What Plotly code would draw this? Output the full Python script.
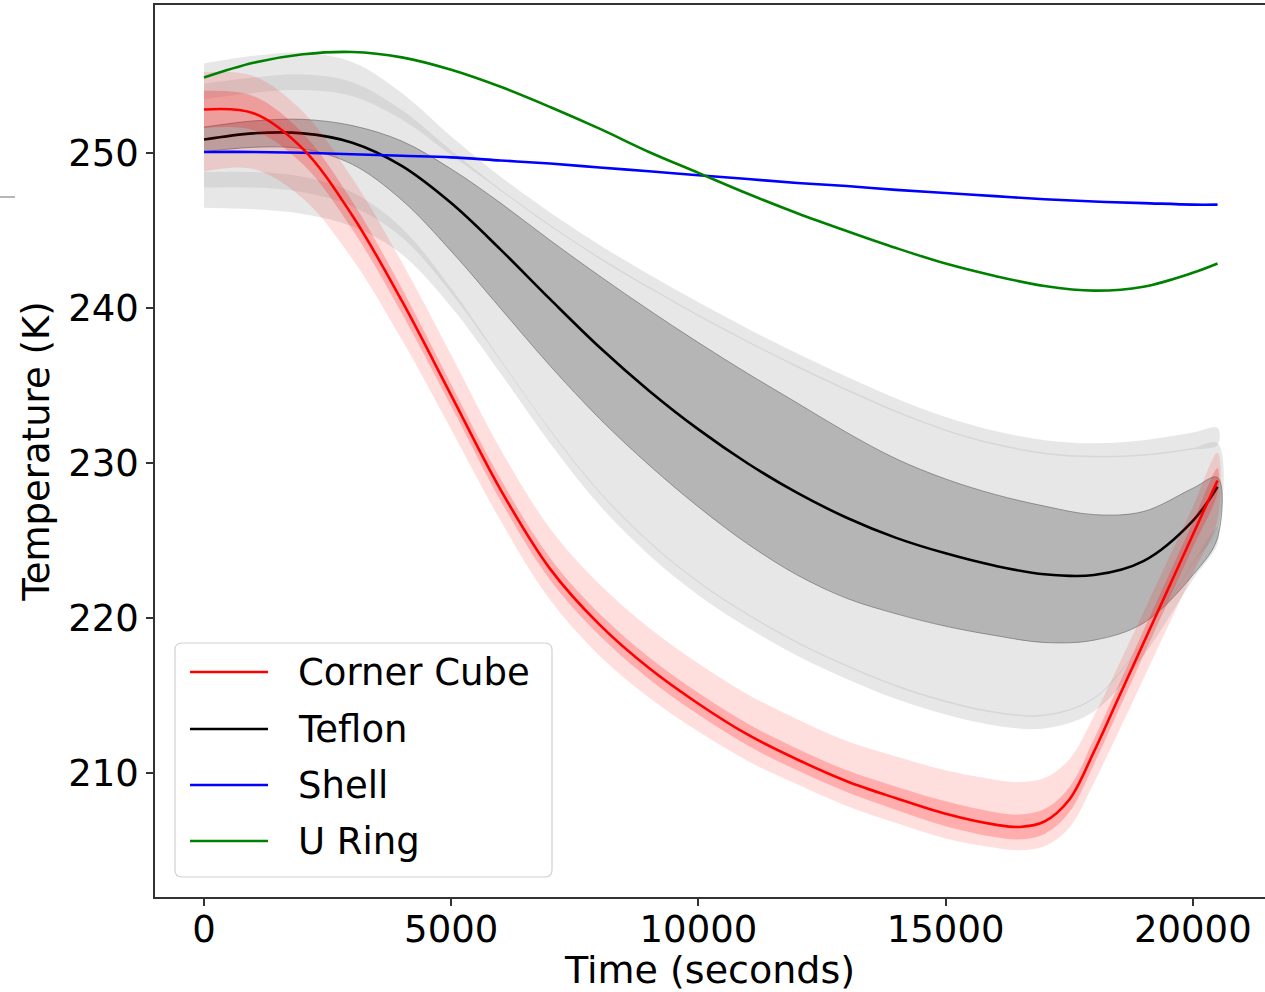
import plotly.graph_objects as go

# ---------------------------------------------------------------
# Time grids (seconds)
# ---------------------------------------------------------------
t_main = [0, 1000, 2000, 3000, 4000, 5000, 6000, 7000, 8000, 9000, 10000,
          11000, 12000, 13000, 14000, 15000, 16000, 17000, 18000, 19000,
          20000, 20500]
t_red = [0, 1000, 2000, 3000, 4000, 5000, 6000, 7000, 8000, 9000, 10000,
         11000, 12000, 13000, 14000, 15000, 16000, 16500, 17000, 17500,
         18000, 18500, 19000, 19500, 20000, 20500]

# ---------------------------------------------------------------
# Corner Cube (model mean and uncertainty offsets, K)
# ---------------------------------------------------------------
corner_cube = [252.84, 252.6, 250.3, 246.0, 240.5, 234.4, 228.3, 223.2,
               219.6, 216.8, 214.5, 212.5, 210.9, 209.5, 208.4, 207.4,
               206.7, 206.55, 206.9, 208.3, 211.4, 214.9, 218.4, 221.9,
               225.4, 228.9]
cc_inner = [1.2, 1.1, 1.0, 0.9, 0.8, 0.7, 0.7, 0.7, 0.7, 0.7, 0.7, 0.7,
            0.7, 0.7, 0.75, 0.8, 0.8, 0.8, 0.8, 0.8, 0.8, 0.8, 0.8, 0.8,
            0.8, 0.8]
cc_outer_up = [2.4, 2.4, 2.4, 2.4, 2.5, 2.6, 2.6, 2.6, 2.6, 2.6, 2.6, 2.6,
               2.6, 2.6, 2.7, 2.8, 2.9, 2.9, 2.8, 2.6, 2.3, 2.1, 2.0, 1.9,
               1.8, 1.8]
cc_outer_dn = [4.0, 3.6, 3.2, 2.8, 2.5, 2.2, 2.0, 2.0, 2.0, 1.9, 1.8, 1.7,
               1.6, 1.6, 1.6, 1.6, 1.5, 1.5, 1.6, 1.8, 2.0, 2.2, 2.3, 2.4,
               2.5, 2.5]

# ---------------------------------------------------------------
# Teflon (model mean, band offsets, measured envelope, K)
# ---------------------------------------------------------------
teflon = [250.9, 251.3, 251.3, 250.7, 249.2, 246.8, 243.8, 240.6, 237.5,
          234.7, 232.2, 230.0, 228.1, 226.5, 225.2, 224.2, 223.4, 222.85,
          222.8, 223.7, 226.3, 228.5]
teflon_up = [0.8, 0.8, 0.9, 1.1, 1.6, 2.2, 3.0, 3.8, 4.6, 5.2, 5.6, 5.8,
             5.8, 5.5, 5.1, 4.8, 4.6, 4.4, 3.9, 3.2, 2.1, 0.6]
teflon_dn = [0.8, 0.9, 1.0, 1.4, 2.2, 3.1, 3.8, 4.3, 4.6, 4.8, 5.0, 5.2,
             5.3, 5.2, 4.9, 4.7, 4.5, 4.4, 4.2, 4.0, 3.5, 3.3]
meas_hi = [254.5, 254.9, 255.1, 254.6, 252.8, 250.2, 247.7, 245.4, 243.3,
           241.4, 239.6, 237.9, 236.3, 234.8, 233.4, 232.2, 231.3, 230.7,
           230.5, 230.6, 231.0, 231.3]
meas_lo = [247.8, 247.8, 247.5, 246.6, 244.6, 241.0, 236.6, 232.1, 228.1,
           224.9, 222.3, 220.2, 218.4, 216.9, 215.6, 214.6, 213.9, 213.7,
           214.8, 218.5, 223.5, 225.8]
# spread of the raw readings outside / inside the envelope edges
meas_out = [1.3, 1.4, 1.4, 1.3, 1.1, 0.9, 0.8, 0.8, 0.8, 0.8, 0.8,
            0.8, 0.8, 0.8, 0.8, 0.8, 0.8, 0.8, 0.8, 0.9, 1.0, 1.0]
meas_in = [1.0, 1.0, 1.0, 0.9, 0.6, 0.3, 0.1, 0.1, 0.1, 0.1, 0.1,
           0.1, 0.1, 0.1, 0.1, 0.1, 0.1, 0.1, 0.1, 0.1, 0.1, 0.1]

# ---------------------------------------------------------------
# Shell and U Ring (K)
# ---------------------------------------------------------------
shell = [250.1, 250.1, 250.05, 249.95, 249.85, 249.75, 249.55, 249.35,
         249.1, 248.85, 248.6, 248.35, 248.1, 247.9, 247.65, 247.45,
         247.25, 247.05, 246.9, 246.8, 246.7, 246.7]
u_ring = [254.9, 255.85, 256.4, 256.55, 256.2, 255.4, 254.3, 253.0, 251.6,
          250.1, 248.75, 247.4, 246.15, 245.0, 243.9, 242.9, 242.1, 241.45,
          241.15, 241.4, 242.3, 242.9]

legend_names = ["Corner Cube", "Teflon", "Shell", "U Ring"]
legend_colors = ["#ff0000", "#000000", "#0000ff", "#008000"]

x_ticks = [0, 5000, 10000, 15000, 20000]
x_tick_text = ["0", "5000", "10000", "15000", "20000"]
y_ticks = [210, 220, 230, 240, 250]
y_tick_text = ["210", "220", "230", "240", "250"]

FONT = "DejaVu Sans"
SPLINE = dict(shape="spline", smoothing=1.0)


def band(x, lo, hi, color, line_color=None, line_width=0):
    """Closed polygon between two curves."""
    xs = list(x) + list(x)[::-1]
    ys = list(hi) + list(lo)[::-1]
    return go.Scatter(
        x=xs, y=ys, mode="lines", fill="toself", fillcolor=color,
        line=dict(color=line_color or "rgba(0,0,0,0)", width=line_width,
                  **SPLINE),
        hoverinfo="skip", showlegend=False)


fig = go.Figure()

# measured envelope of the Teflon sensors
fig.add_trace(band(t_main, meas_lo, meas_hi, "#e7e7e7"))
# scatter of the raw readings along the envelope edges
fig.add_trace(band(t_main,
                   [m - i for m, i in zip(meas_hi, meas_in)],
                   [m + o for m, o in zip(meas_hi, meas_out)],
                   "rgba(185,185,185,0.35)"))
fig.add_trace(band(t_main,
                   [m - o for m, o in zip(meas_lo, meas_out)],
                   [m + i for m, i in zip(meas_lo, meas_in)],
                   "rgba(185,185,185,0.35)"))
# Teflon model band
fig.add_trace(band(t_main,
                   [m - d for m, d in zip(teflon, teflon_dn)],
                   [m + u for m, u in zip(teflon, teflon_up)],
                   "rgba(120,120,120,0.45)",
                   line_color="rgba(90,90,90,0.55)", line_width=1))

line_style = dict(width=2.6, **SPLINE)
fig.add_trace(go.Scatter(x=t_main, y=teflon, mode="lines", name="Teflon",
                         line=dict(color="#000000", **line_style)))

# Corner Cube bands
fig.add_trace(band(t_red,
                   [m - d for m, d in zip(corner_cube, cc_outer_dn)],
                   [m + u for m, u in zip(corner_cube, cc_outer_up)],
                   "rgba(255,0,0,0.13)"))
fig.add_trace(band(t_red,
                   [m - d for m, d in zip(corner_cube, cc_inner)],
                   [m + d for m, d in zip(corner_cube, cc_inner)],
                   "rgba(255,0,0,0.22)"))

fig.add_trace(go.Scatter(x=t_main, y=shell, mode="lines", name="Shell",
                         line=dict(color="#0000ff", **line_style)))
fig.add_trace(go.Scatter(x=t_main, y=u_ring, mode="lines", name="U Ring",
                         line=dict(color="#008000", **line_style)))
fig.add_trace(go.Scatter(x=t_red, y=corner_cube, mode="lines",
                         name="Corner Cube",
                         line=dict(color="#ff0000", **line_style)))

# ---------------------------------------------------------------
# Legend box drawn in paper coordinates
# ---------------------------------------------------------------
PLOT_W, PLOT_H = 1110.0, 892.0
L, T, B = 155.0, 5.0, 95.0
FIG_H = 992.0


def px_x(px):
    return (px - L) / PLOT_W


def px_y(py):
    return (FIG_H - B - py) / PLOT_H


x0, x1 = px_x(175), px_x(552)
y0, y1 = px_y(877), px_y(643)
rx, ry = 7 / PLOT_W, 7 / PLOT_H
path = (f"M {x0 + rx},{y0} L {x1 - rx},{y0} Q {x1},{y0} {x1},{y0 + ry} "
        f"L {x1},{y1 - ry} Q {x1},{y1} {x1 - rx},{y1} "
        f"L {x0 + rx},{y1} Q {x0},{y1} {x0},{y1 - ry} "
        f"L {x0},{y0 + ry} Q {x0},{y0} {x0 + rx},{y0} Z")
shapes = [dict(type="path", path=path, xref="paper", yref="paper",
               fillcolor="rgba(255,255,255,0.8)",
               line=dict(color="rgba(204,204,204,0.9)", width=1.2),
               layer="above")]
annotations = []
rows_py = [672, 729, 785, 841]
for name, color, py in zip(legend_names, legend_colors, rows_py):
    shapes.append(dict(type="line", xref="paper", yref="paper",
                       x0=px_x(190), x1=px_x(268), y0=px_y(py), y1=px_y(py),
                       line=dict(color=color, width=2.6), layer="above"))
    annotations.append(dict(text=name, xref="paper", yref="paper",
                            x=px_x(296), y=px_y(py), xanchor="left",
                            yanchor="middle", showarrow=False,
                            font=dict(family=FONT, size=37, color="#000")))

# short stray tick at the far left edge
shapes.append(dict(type="line", xref="paper", yref="paper",
                   x0=px_x(0), x1=px_x(15), y0=px_y(197), y1=px_y(197),
                   line=dict(color="#888888", width=1.2)))

axis_common = dict(showgrid=False, zeroline=False, showline=True,
                   linecolor="#333333", linewidth=1.6, ticks="outside",
                   ticklen=7, tickwidth=1.5, tickcolor="#333333",
                   tickfont=dict(family=FONT, size=37, color="#000"))

fig.update_layout(
    width=1265, height=992,
    margin=dict(l=L, r=0, t=T, b=B),
    paper_bgcolor="white", plot_bgcolor="white",
    showlegend=False,
    shapes=shapes, annotations=annotations,
    xaxis=dict(range=[-991, 21460], tickvals=x_ticks, ticktext=x_tick_text,
               mirror=True, ticklabelstandoff=-8,
               title=dict(text="Time (seconds)", standoff=4,
                          font=dict(family=FONT, size=38, color="#000")),
               **axis_common),
    yaxis=dict(range=[202.03, 259.58], tickvals=y_ticks, ticktext=y_tick_text,
               title=dict(text="Temperature (K)", standoff=7,
                          font=dict(family=FONT, size=37, color="#000")),
               **axis_common),
)

fig.write_html("out.html")
